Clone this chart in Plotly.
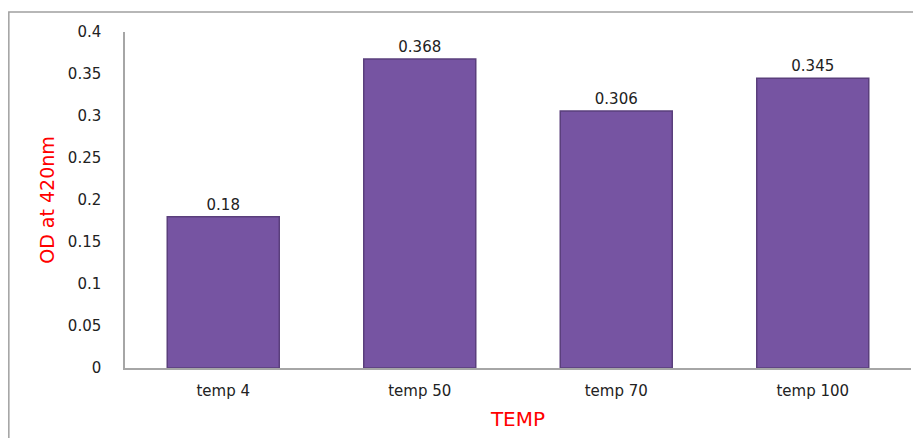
import plotly.graph_objects as go

categories = ["temp 4", "temp 50", "temp 70", "temp 100"]
values = [0.18, 0.368, 0.306, 0.345]
labels = ["0.18", "0.368", "0.306", "0.345"]

FONT = "DejaVu Sans"

fig = go.Figure()
fig.add_trace(go.Bar(
    x=categories, y=values, text=labels, textposition="outside",
    textfont=dict(family=FONT, size=15, color="#222222"),
    marker=dict(color="#7654a2", line=dict(color="#5a3f7c", width=1.5)),
    width=0.57, cliponaxis=False,
))

fig.update_layout(
    width=921, height=438,
    margin=dict(l=117, r=18, t=24, b=78),
    paper_bgcolor="white", plot_bgcolor="white",
    showlegend=False,
    font=dict(family=FONT, color="#222222"),
    xaxis=dict(
        showline=True, linecolor="#a6a6a6", linewidth=1.5, showgrid=False,
        automargin=False,
        tickfont=dict(family=FONT, size=15, color="#222222"), ticks="", ticklabelstandoff=8,
        title=dict(text="TEMP", font=dict(family=FONT, size=20, color="red"), standoff=13),
    ),
    yaxis=dict(
        range=[0, 0.4], dtick=0.05, showline=True, linecolor="#a6a6a6", linewidth=1.5,
        showgrid=False, zeroline=False, ticks="", ticklabelstandoff=19,
        automargin=False,
        tickfont=dict(family=FONT, size=15, color="#222222"),
        title=dict(text="OD at 420nm", font=dict(family=FONT, size=19, color="red"), standoff=8),
    ),
    bargap=0.43,
    shapes=[dict(type="rect", xref="paper", yref="paper",
                 x0=-0.1478, x1=1.2, y0=-0.4, y1=1.0595,
                 line=dict(color="#a0a0a0", width=1.5), layer="below")],
)

fig.write_html("out.html")
